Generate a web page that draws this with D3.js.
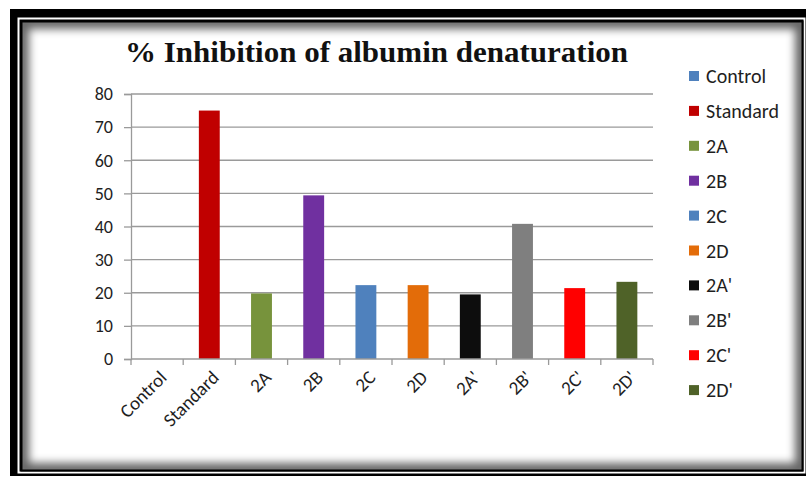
<!DOCTYPE html>
<html>
<head>
<meta charset="utf-8">
<script src="https://cdn.jsdelivr.net/npm/d3@7"></script>
<style>
  html, body { margin: 0; padding: 0; background: #fff; }
  svg { display: block; }
</style>
</head>
<body>
<svg id="chart" width="806" height="477"></svg>
<script>
// % inhibition of albumin denaturation per sample
const categories = ["Control", "Standard", "2A", "2B", "2C", "2D", "2A'", "2B'", "2C'", "2D'"];
const inhibition = [0, 75, 19.8, 49.4, 22.3, 22.3, 19.5, 40.8, 21.4, 23.3];
const barColors = ["#4F81BD", "#C00000", "#77933C", "#7030A0", "#4F81BD", "#E36C09", "#0D0D0D", "#7F7F7F", "#FF0000", "#4F6228"];
const yTicks = [0, 10, 20, 30, 40, 50, 60, 70, 80];
const title = "% Inhibition of albumin denaturation";

const svg = d3.select("#chart");
const W = 806, H = 477;

const defs = svg.append("defs");
defs.append("clipPath").attr("id", "innerClip")
  .append("rect").attr("x", 22).attr("y", 22).attr("width", 780).attr("height", 448);
defs.append("filter").attr("id", "soft").attr("x", "-10%").attr("y", "-10%").attr("width", "120%").attr("height", "120%")
  .append("feGaussianBlur").attr("stdDeviation", 4);

// Frame: heavy black border, thin white gap, inner panel with soft inner shadow
svg.append("rect").attr("x", 0).attr("y", 0).attr("width", W).attr("height", H).attr("fill", "#fff");
svg.append("rect").attr("x", 10).attr("y", 9).attr("width", W - 10).attr("height", 467).attr("fill", "#000");
svg.append("rect").attr("x", 18.5).attr("y", 18.5).attr("width", 786).attr("height", 454)
  .attr("fill", "none").attr("stroke", "#fff").attr("stroke-width", 2);
svg.append("rect").attr("x", 21).attr("y", 21).attr("width", 782).attr("height", 450).attr("fill", "#fff");
svg.append("g").attr("clip-path", "url(#innerClip)")
  .append("rect").attr("x", 22).attr("y", 22).attr("width", 780).attr("height", 448)
  .attr("fill", "none").attr("stroke", "#000").attr("stroke-opacity", 0.6)
  .attr("stroke-width", 14).attr("filter", "url(#soft)");
svg.append("rect").attr("x", 21.5).attr("y", 21.5).attr("width", 781).attr("height", 449)
  .attr("fill", "none").attr("stroke", "#000").attr("stroke-width", 2);

// Plot area
const plot = { left: 131, right: 653, top: 94, bottom: 359 };
const x = d3.scaleBand().domain(categories).range([plot.left, plot.right]).paddingInner(0.6).paddingOuter(0.3);
const xBand = d3.scaleBand().domain(categories).range([plot.left, plot.right]);
const y = d3.scaleLinear().domain([0, 80]).range([plot.bottom, plot.top]);

const textColor = "#1e1e1e";
const gridColor = "#9a9a9a";
const uiFont = "Carlito, Lato, 'Open Sans', sans-serif";

// Horizontal gridlines
svg.append("g").selectAll("line").data(yTicks.filter(d => d > 0)).join("line")
  .attr("x1", plot.left).attr("x2", plot.right)
  .attr("y1", d => y(d)).attr("y2", d => y(d))
  .attr("stroke", gridColor).attr("stroke-width", 1.3);

// Y axis
const yAxis = svg.append("g").attr("transform", `translate(${plot.left},0)`)
  .call(d3.axisLeft(y).tickValues(yTicks).tickSize(7).tickPadding(11));
yAxis.select(".domain").attr("stroke", gridColor).attr("stroke-width", 1.3);
yAxis.selectAll(".tick line").attr("stroke", gridColor).attr("stroke-width", 1.3);
yAxis.selectAll(".tick text").attr("fill", textColor).attr("font-family", uiFont).attr("font-size", 18);

// Bars
svg.append("g").selectAll("rect").data(categories).join("rect")
  .attr("x", d => x(d))
  .attr("width", x.bandwidth())
  .attr("y", (d, i) => y(inhibition[i]))
  .attr("height", (d, i) => y(0) - y(inhibition[i]))
  .attr("fill", (d, i) => barColors[i]);

// X axis baseline with ticks at category boundaries
const xg = svg.append("g");
xg.append("line").attr("x1", plot.left).attr("x2", plot.right)
  .attr("y1", plot.bottom).attr("y2", plot.bottom)
  .attr("stroke", gridColor).attr("stroke-width", 1.3);
const boundaries = categories.map(c => xBand(c)).concat([plot.right]);
xg.selectAll("line.tk").data(boundaries).join("line").attr("class", "tk")
  .attr("x1", d => d).attr("x2", d => d)
  .attr("y1", plot.bottom).attr("y2", plot.bottom + 6)
  .attr("stroke", gridColor).attr("stroke-width", 1.3);

// Rotated category labels
xg.selectAll("text").data(categories).join("text")
  .attr("transform", d => `translate(${xBand(d) + xBand.bandwidth() / 2 + 6},${plot.bottom + 15}) rotate(-45)`)
  .attr("text-anchor", "end")
  .attr("dy", "0.35em")
  .attr("fill", textColor)
  .attr("font-family", uiFont)
  .attr("font-size", 19)
  .text(d => d);

// Title
svg.append("text")
  .attr("x", 376.5).attr("y", 62)
  .attr("text-anchor", "middle")
  .attr("font-family", "'Liberation Serif', 'DejaVu Serif', serif")
  .attr("font-weight", "bold")
  .attr("font-size", 30)
  .attr("fill", "#111")
  .attr("textLength", 503)
  .attr("lengthAdjust", "spacingAndGlyphs")
  .text(title);

// Legend
const legend = svg.append("g").selectAll("g").data(categories).join("g")
  .attr("transform", (d, i) => `translate(689,${76 + i * 34.9})`);
legend.append("rect").attr("x", 0).attr("y", -5).attr("width", 10).attr("height", 10)
  .attr("fill", (d, i) => barColors[i]);
legend.append("text").attr("x", 17).attr("y", 0).attr("dy", "0.35em")
  .attr("fill", textColor).attr("font-family", uiFont).attr("font-size", 20)
  .text(d => d);
</script>
</body>
</html>
